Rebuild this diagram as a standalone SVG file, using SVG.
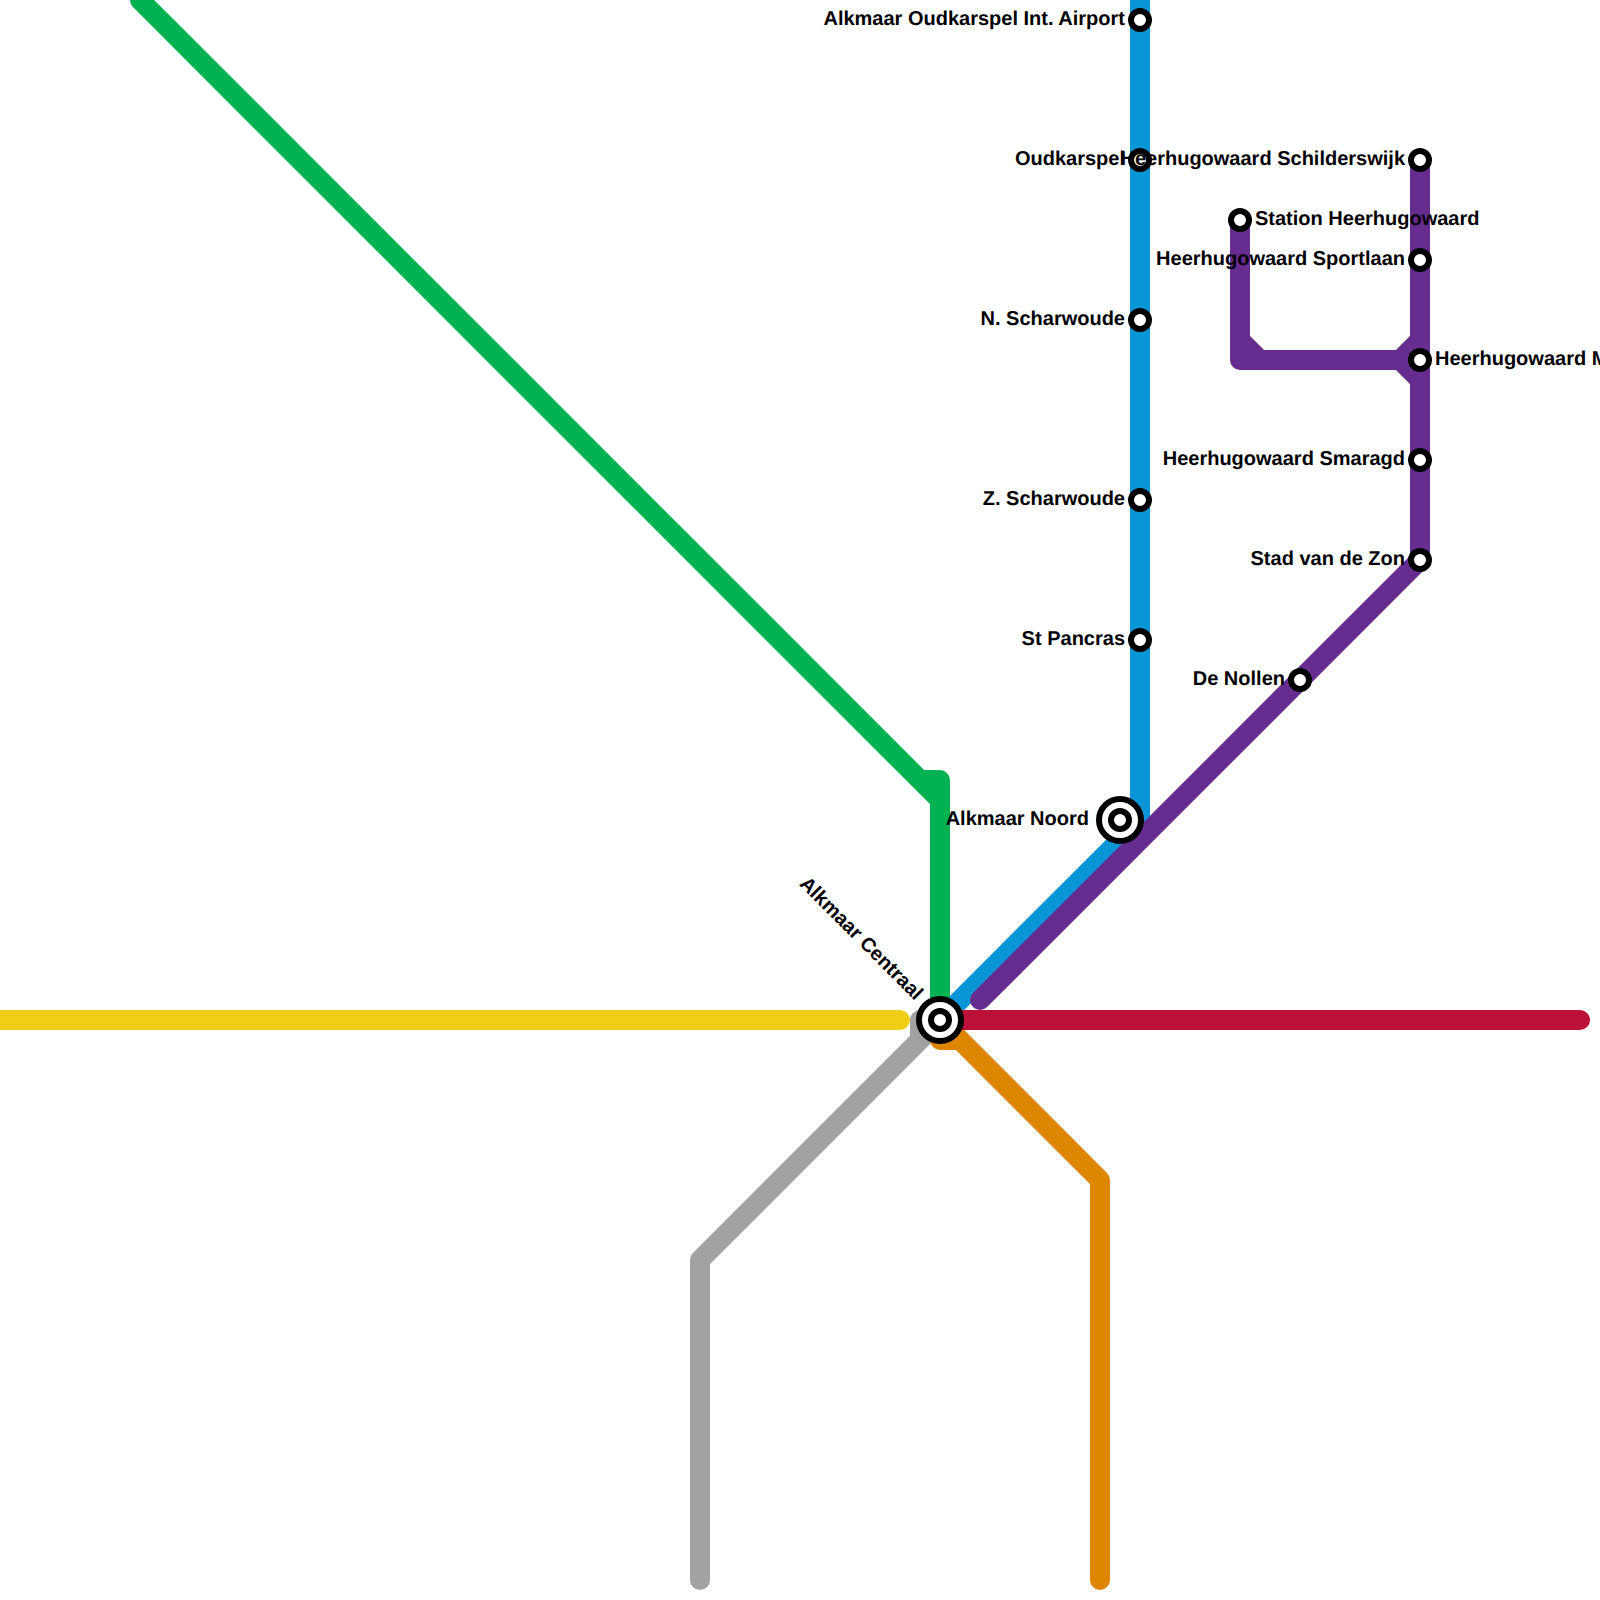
<svg xmlns="http://www.w3.org/2000/svg" width="1600" height="1600" viewBox="0 0 1600 1600">
<style>
.l{fill:none;stroke-width:20;stroke-linecap:round;stroke-linejoin:round}
.s{fill:#fff;stroke:#000;stroke-width:6}
.t{font-family:"Liberation Sans",Arial,sans-serif;font-size:20px;font-weight:bold;fill:#000;text-rendering:geometricPrecision}
.e{text-anchor:end}
</style>
<rect width="1600" height="1600" fill="#fff"/>
<g id="connectors">
<path id="line-green" class="l" stroke="#00b251" d="M140 0L940 800M920 780H940V1020"/>
<path id="line-blue" class="l" stroke="#0896d7" d="M1140 -20V820L940 1020"/>
<path id="line-purple" class="l" stroke="#662c90" d="M980 1000L1420 560V160M1240 220V360H1420M1240 340L1260 360M1400 360L1420 340M1400 360L1420 380"/>
<path id="line-grey" class="l" stroke="#a2a2a2" d="M700 1580V1260L940 1020M920 1040V1020H940"/>
<path id="line-orange" class="l" stroke="#df8600" d="M1100 1580V1180L940 1020V1040H960"/>
<path id="line-yellow" class="l" stroke="#f0ce15" d="M-20 1020H900"/>
<path id="line-red" class="l" stroke="#bd1038" d="M940 1020H1580"/>
</g>
<g id="alkmaar-centraal"><circle class="s" cx="940" cy="1020" r="21"/><circle class="s" cx="940" cy="1020" r="9"/><text class="t e" transform="translate(915,1001) rotate(45)">Alkmaar Centraal</text></g>
<g id="alkmaar-noord"><circle class="s" cx="1120" cy="820" r="21"/><circle class="s" cx="1120" cy="820" r="9"/><text class="t e" x="1089" y="825">Alkmaar Noord</text></g>
<g id="airport"><circle class="s" cx="1140" cy="20" r="9"/><text class="t e" x="1125" y="25">Alkmaar Oudkarspel Int. Airport</text></g>
<g id="oudkarspel"><circle class="s" cx="1140" cy="160" r="9"/><text class="t e" x="1125" y="165">Oudkarspel</text></g>
<g id="n-scharwoude"><circle class="s" cx="1140" cy="320" r="9"/><text class="t e" x="1125" y="325">N. Scharwoude</text></g>
<g id="z-scharwoude"><circle class="s" cx="1140" cy="500" r="9"/><text class="t e" x="1125" y="505">Z. Scharwoude</text></g>
<g id="st-pancras"><circle class="s" cx="1140" cy="640" r="9"/><text class="t e" x="1125" y="645">St Pancras</text></g>
<g id="de-nollen"><circle class="s" cx="1300" cy="680" r="9"/><text class="t e" x="1285" y="685">De Nollen</text></g>
<g id="stad-van-de-zon"><circle class="s" cx="1420" cy="560" r="9"/><text class="t e" x="1405" y="565">Stad van de Zon</text></g>
<g id="smaragd"><circle class="s" cx="1420" cy="460" r="9"/><text class="t e" x="1405" y="465">Heerhugowaard Smaragd</text></g>
<g id="hhw-m"><circle class="s" cx="1420" cy="360" r="9"/><text class="t" x="1435" y="365">Heerhugowaard M</text></g>
<g id="sportlaan"><circle class="s" cx="1420" cy="260" r="9"/><text class="t e" x="1405" y="265">Heerhugowaard Sportlaan</text></g>
<g id="schilderswijk"><circle class="s" cx="1420" cy="160" r="9"/><text class="t e" x="1405" y="165">Heerhugowaard Schilderswijk</text></g>
<g id="station-heerhugowaard"><circle class="s" cx="1240" cy="220" r="9"/><text class="t" x="1255" y="225">Station Heerhugowaard</text></g>
</svg>
